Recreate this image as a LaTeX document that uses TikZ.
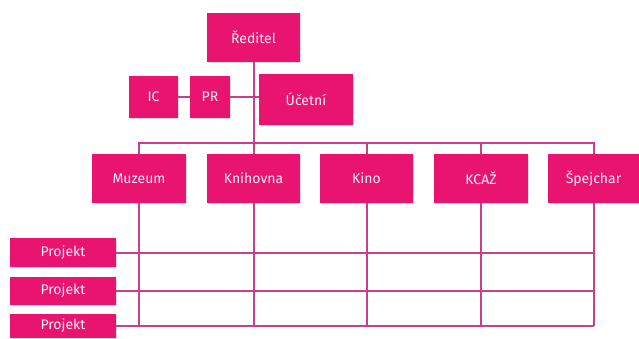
\documentclass[tikz,border=0pt]{standalone}
\usepackage{fontspec}
\setmainfont{Fira Sans}
\usetikzlibrary{calc,shadows}
\definecolor{BoxPink}{HTML}{E81470}
\definecolor{LinePink}{HTML}{C8408C}

\begin{document}
\begin{tikzpicture}[x=1pt,y=-1pt,
            box/.style={draw=none,fill=BoxPink,text=white!92!BoxPink,font=\fontsize{14}{15}\selectfont,
                inner sep=0pt,minimum height=49pt,
                drop shadow={shadow xshift=0.6pt,shadow yshift=-1.4pt,opacity=0.25}},
            link/.style={LinePink,line width=2pt}]
            \useasboundingbox (0, 0) rectangle (639, 338);

            % vedeni
            \node[box,minimum width=93pt] (red) at (253.5, 37) {Ředitel};
            \node[box,minimum width=49pt,minimum height=42pt] (ic) at (153.5, 97) {IC};
            \node[box,minimum width=40pt,minimum height=42pt] (pr) at (210, 97) {PR};
            \node[box,minimum width=94pt,minimum height=51pt] (uc) at (306, 99.5) {Účetní};

            % oddeleni
            \node[box,minimum width=94pt] (muz) at (139, 178.5) {Muzeum};
            \node[box,minimum width=93pt] (knih) at (253.5, 178.5) {Knihovna};
            \node[box,minimum width=93pt] (kino) at (366.5, 178.5) {Kino};
            \node[box,minimum width=94pt] (kcaz) at (481, 178.5) {KCAŽ};
            \node[box,minimum width=91pt] (spej) at (593.5, 178.5) {Špejchar};

            % projekty
            \node[box,minimum width=106pt,minimum height=29pt] (proj1) at (63, 252.5) {Projekt};
            \node[box,minimum width=106pt,minimum height=28pt] (proj2) at (63, 291) {Projekt};
            \node[box,minimum width=106pt,minimum height=24pt] (proj3) at (63, 326) {Projekt};

            \draw[link] (red) -- (knih);
            \draw[link] (ic) -- (pr);
            \draw[link] (pr.east) -- (uc.west |- pr.east);
            \draw[link] (muz.north) -- ++(0, -11) -| (spej.north);
            \draw[link] (kino.north) -- ++(0, -11);
            \draw[link] (kcaz.north) -- ++(0, -11);

            \draw[link] (proj1.east) -- (proj1.east -| spej.south);
            \draw[link] (proj2.east) -- (proj2.east -| spej.south);
            \draw[link] (proj3.east) -- (proj3.east -| spej.south);

            \draw[link] (muz.south) -- (muz.south |- proj3.east);
            \draw[link] (knih.south) -- (knih.south |- proj3.east);
            \draw[link] (kino.south) -- (kino.south |- proj3.east);
            \draw[link] (kcaz.south) -- (kcaz.south |- proj3.east);
            \draw[link] (spej.south) -- (spej.south |- proj3.east);
        \end{tikzpicture}
\end{document}
